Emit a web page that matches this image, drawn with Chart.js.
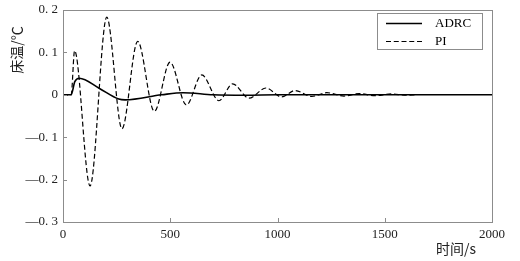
<!DOCTYPE html>
<html>
<head>
<meta charset="utf-8">
<script src="https://cdn.jsdelivr.net/npm/chart.js@4.4.1/dist/chart.umd.min.js"></script>
<style>
  html, body { margin: 0; padding: 0; background: #fff; }
  #wrap { width: 520px; height: 261px; }
</style>
</head>
<body>
<div id="wrap"><canvas id="chart"></canvas></div>
<script>
// ---- data ----
const timeTicks = [0, 500, 1000, 1500, 2000];
const tempTicks = [-0.3, -0.2, -0.1, 0, 0.1, 0.2];

const adrcTime = [0, 38, 55, 76, 170, 260, 290, 460, 560, 700, 850, 1000, 2000];
const adrcTemp = [0, 0, 0.031, 0.039, 0.015, -0.010, -0.012, 0, 0.005, 0, -0.001, 0, 0];

const piTime = [0, 38, 54, 126, 204, 275, 348, 426, 499, 575, 647, 727, 791, 867, 946, 1019, 1082, 1160, 1230, 1310, 1380, 1455, 1530, 1600, 1650];
const piTemp = [0, 0, 0.104, -0.215, 0.183, -0.080, 0.126, -0.039, 0.077, -0.024, 0.047, -0.014, 0.026, -0.008, 0.016, -0.005, 0.010, -0.004, 0.005, -0.003, 0.003, -0.002, 0.002, -0.001, 0];

const seriesNames = ['ADRC', 'PI'];
const xTitle = '时间/s';
const yTitle = '床温/℃';

// ---- helpers ----
const toPoints = (xs, ys) => xs.map((x, i) => ({ x: x, y: ys[i] }));
const frameColor = '#8c8c8c';
const numFont = '13px "Liberation Serif", serif';
const cjkFont = '14px "Noto Sans CJK SC", sans-serif';

function fmtTemp(v) {
    const r = Math.round(v * 10) / 10;
    if (r === 0) return '0';
    const s = Math.abs(r).toFixed(1).replace('.', '. ');
    return (r < 0 ? '\u2014' : '') + s;
}

// frame, inward ticks, axis titles, legend box
const decor = {
    id: 'decor',
    afterDraw(chart) {
        const ctx = chart.ctx;
        const a = chart.chartArea;
        const xs = chart.scales.x, ys = chart.scales.y;
        ctx.save();
        ctx.strokeStyle = frameColor;
        ctx.lineWidth = 1;
        ctx.strokeRect(Math.round(a.left) + 0.5, Math.round(a.top) + 0.5,
            Math.round(a.right - a.left), Math.round(a.bottom - a.top));
        ctx.beginPath();
        xs.ticks.forEach(t => {
            const px = Math.round(xs.getPixelForValue(t.value)) + 0.5;
            ctx.moveTo(px, a.bottom);
            ctx.lineTo(px, a.bottom - 4);
        });
        ys.ticks.forEach(t => {
            const py = Math.round(ys.getPixelForValue(t.value)) + 0.5;
            ctx.moveTo(a.left, py);
            ctx.lineTo(a.left + 4, py);
        });
        ctx.stroke();

        // axis titles
        ctx.fillStyle = '#222';
        ctx.font = cjkFont;
        ctx.textAlign = 'right';
        ctx.textBaseline = 'middle';
        ctx.fillText(xTitle, 476, 249);
        ctx.save();
        ctx.translate(17, 50);
        ctx.rotate(-Math.PI / 2);
        ctx.textAlign = 'center';
        ctx.fillText(yTitle, 0, 0);
        ctx.restore();

        // legend
        const lx = 377, ly = 13, lw = 105, lh = 36;
        ctx.fillStyle = '#fff';
        ctx.fillRect(lx, ly, lw, lh);
        ctx.strokeStyle = frameColor;
        ctx.strokeRect(lx + 0.5, ly + 0.5, lw, lh);
        chart.data.datasets.forEach((ds, i) => {
            const y = ly + 10 + i * 18;
            ctx.strokeStyle = '#000';
            ctx.lineWidth = ds.borderWidth;
            ctx.setLineDash(ds.borderDash || []);
            ctx.beginPath();
            ctx.moveTo(386, y + 0.5);
            ctx.lineTo(422, y + 0.5);
            ctx.stroke();
            ctx.setLineDash([]);
            ctx.fillStyle = '#000';
            ctx.font = numFont;
            ctx.textAlign = 'left';
            ctx.textBaseline = 'middle';
            ctx.fillText(ds.label, 435, y + 1);
        });
        ctx.restore();
    }
};

new Chart(document.getElementById('chart'), {
    type: 'line',
    data: {
        datasets: [
            {
                label: seriesNames[0],
                data: toPoints(adrcTime, adrcTemp),
                borderColor: '#000',
                borderWidth: 1.6,
                pointRadius: 0,
                cubicInterpolationMode: 'monotone'
            },
            {
                label: seriesNames[1],
                data: toPoints(piTime, piTemp),
                borderColor: '#000',
                borderWidth: 1.2,
                borderDash: [5, 2.75],
                pointRadius: 0,
                cubicInterpolationMode: 'monotone'
            }
        ]
    },
    options: {
        responsive: true,
        maintainAspectRatio: false,
        animation: false,
        layout: { padding: { left: 0, right: 28, top: 10, bottom: 0 } },
        plugins: {
            legend: { display: false },
            tooltip: { enabled: false }
        },
        scales: {
            x: {
                type: 'linear',
                min: timeTicks[0],
                max: timeTicks[timeTicks.length - 1],
                afterBuildTicks: s => { s.ticks = timeTicks.map(v => ({ value: v })); },
                afterFit: s => { s.height = 39; },
                grid: { display: false, drawTicks: false },
                border: { display: false },
                ticks: {
                    padding: 5,
                    color: '#222',
                    font: { family: '"Liberation Serif", serif', size: 13 },
                    maxRotation: 0,
                    callback: v => String(v)
                }
            },
            y: {
                min: tempTicks[0],
                max: tempTicks[tempTicks.length - 1],
                afterBuildTicks: s => { s.ticks = tempTicks.map(v => ({ value: v })); },
                afterFit: s => { s.width = 63; s.paddingTop = 0; s.paddingBottom = 0; },
                grid: { display: false, drawTicks: false },
                border: { display: false },
                ticks: {
                    padding: 5,
                    color: '#222',
                    font: { family: '"Liberation Serif", serif', size: 13, lineHeight: 1 },
                    callback: v => fmtTemp(v)
                }
            }
        }
    },
    plugins: [decor]
});
</script>
</body>
</html>
